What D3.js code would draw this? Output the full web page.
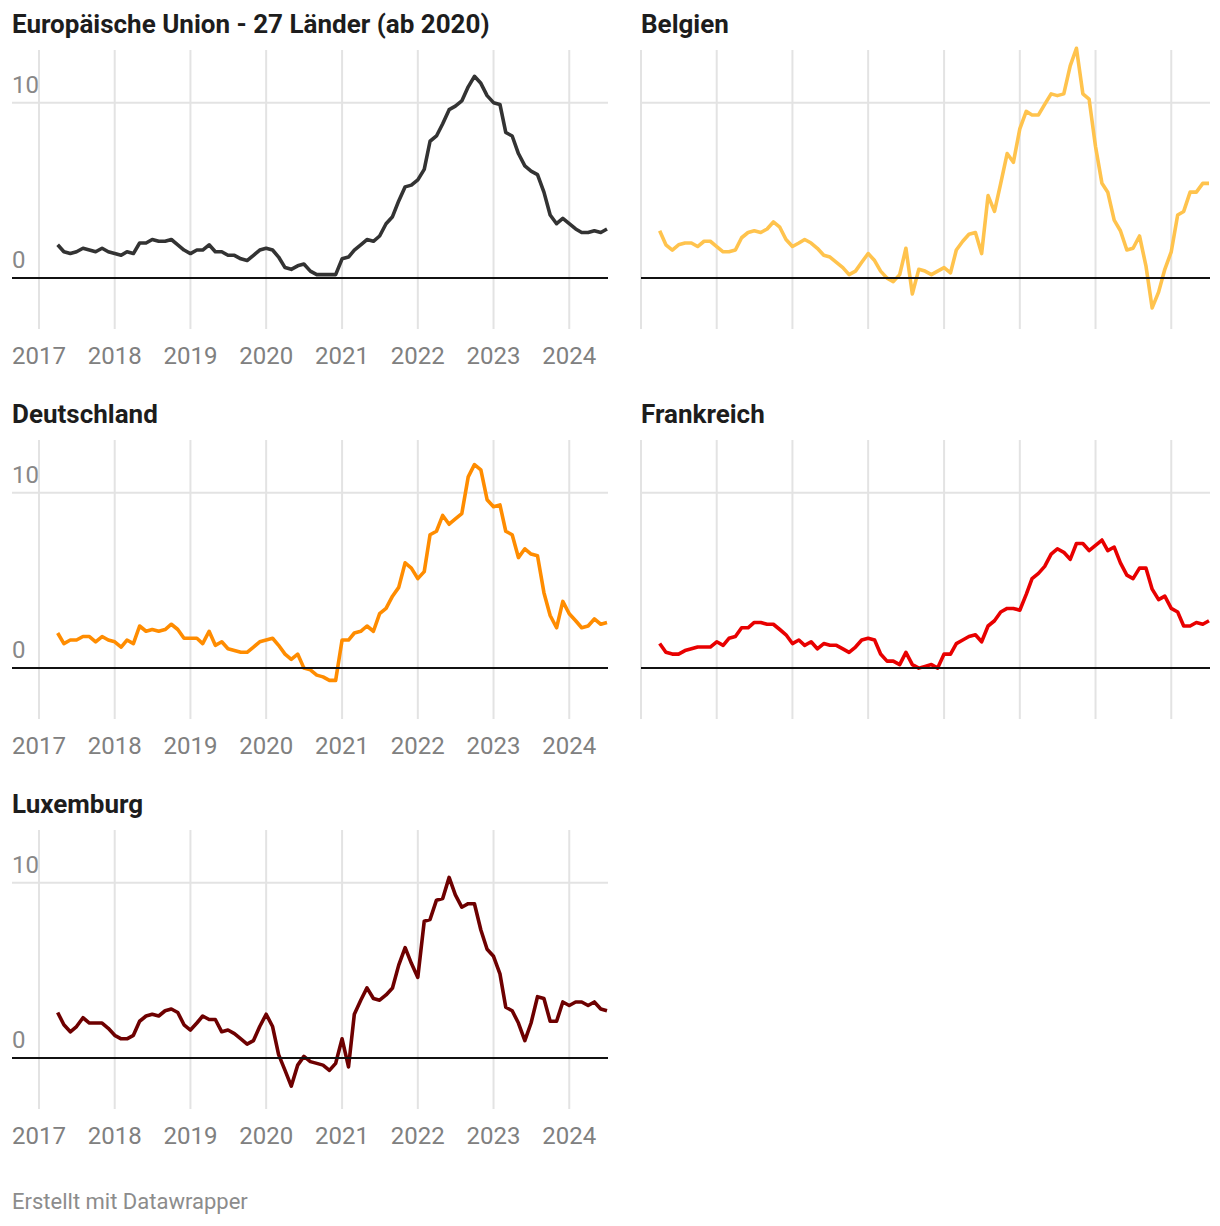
<!DOCTYPE html>
<html>
<head>
<meta charset="utf-8">
<script src="https://cdn.jsdelivr.net/npm/d3@7"></script>
<style>
  body { margin: 0; background: #fff; }
  svg { display: block; }
  text { font-family: Roboto, "Noto Sans", sans-serif; }
</style>
</head>
<body>
<svg id="chart" width="1220" height="1226"></svg>
<script>
// ---- Data (HICP, annual rate of change, %), monthly Apr 2017 – Jul 2024 ----
const firstMonth = "2017-04";
const lastMonth = "2024-07";
const yearTicks = [2017, 2018, 2019, 2020, 2021, 2022, 2023, 2024];
const yTicks = [0, 10];

const panelNames = [
  "Europäische Union - 27 Länder (ab 2020)",
  "Belgien",
  "Deutschland",
  "Frankreich",
  "Luxemburg"
];
const panelColors = ["#333333", "#ffc34d", "#ff8c00", "#e80000", "#6e0000"];

const euValues = [
  1.9, 1.5, 1.4, 1.5, 1.7, 1.6, 1.5, 1.7, 1.5,
  1.4, 1.3, 1.5, 1.4, 2.0, 2.0, 2.2, 2.1, 2.1, 2.2, 1.9, 1.6,
  1.4, 1.6, 1.6, 1.9, 1.5, 1.5, 1.3, 1.3, 1.1, 1.0, 1.3, 1.6,
  1.7, 1.6, 1.2, 0.6, 0.5, 0.7, 0.8, 0.4, 0.2, 0.2, 0.2, 0.2,
  1.1, 1.2, 1.6, 1.9, 2.2, 2.1, 2.4, 3.1, 3.5, 4.4, 5.2, 5.3,
  5.6, 6.2, 7.8, 8.1, 8.8, 9.6, 9.8, 10.1, 10.9, 11.5, 11.1, 10.4,
  10.0, 9.9, 8.3, 8.1, 7.1, 6.4, 6.1, 5.9, 4.9, 3.6, 3.1, 3.4,
  3.1, 2.8, 2.6, 2.6, 2.7, 2.6, 2.8
];
const belgiumValues = [
  2.7, 1.9, 1.6, 1.9, 2.0, 2.0, 1.8, 2.1, 2.1,
  1.8, 1.5, 1.5, 1.6, 2.3, 2.6, 2.7, 2.6, 2.8, 3.2, 2.9, 2.2,
  1.8, 2.0, 2.2, 2.0, 1.7, 1.3, 1.2, 0.9, 0.6, 0.2, 0.4, 0.9,
  1.4, 1.0, 0.4, 0.0, -0.2, 0.2, 1.7, -0.9, 0.5, 0.4, 0.2, 0.4,
  0.6, 0.3, 1.6, 2.1, 2.5, 2.6, 1.4, 4.7, 3.8, 5.4, 7.1, 6.6,
  8.5, 9.5, 9.3, 9.3, 9.9, 10.5, 10.4, 10.5, 12.1, 13.1, 10.5, 10.2,
  7.5, 5.4, 4.9, 3.3, 2.7, 1.6, 1.7, 2.4, 0.7, -1.7, -0.8, 0.5,
  1.5, 3.6, 3.8, 4.9, 4.9, 5.4, 5.4
];
const germanyValues = [
  2.0, 1.4, 1.6, 1.6, 1.8, 1.8, 1.5, 1.8, 1.6,
  1.5, 1.2, 1.6, 1.4, 2.4, 2.1, 2.2, 2.1, 2.2, 2.5, 2.2, 1.7,
  1.7, 1.7, 1.4, 2.1, 1.3, 1.5, 1.1, 1.0, 0.9, 0.9, 1.2, 1.5,
  1.6, 1.7, 1.3, 0.8, 0.5, 0.8, 0.0, -0.1, -0.4, -0.5, -0.7, -0.7,
  1.6, 1.6, 2.0, 2.1, 2.4, 2.1, 3.1, 3.4, 4.1, 4.6, 6.0, 5.7,
  5.1, 5.5, 7.6, 7.8, 8.7, 8.2, 8.5, 8.8, 10.9, 11.6, 11.3, 9.6,
  9.2, 9.3, 7.8, 7.6, 6.3, 6.8, 6.5, 6.4, 4.3, 3.0, 2.3, 3.8,
  3.1, 2.7, 2.3, 2.4, 2.8, 2.5, 2.6
];
const franceValues = [
  1.4, 0.9, 0.8, 0.8, 1.0, 1.1, 1.2, 1.2, 1.2,
  1.5, 1.3, 1.7, 1.8, 2.3, 2.3, 2.6, 2.6, 2.5, 2.5, 2.2, 1.9,
  1.4, 1.6, 1.3, 1.5, 1.1, 1.4, 1.3, 1.3, 1.1, 0.9, 1.2, 1.6,
  1.7, 1.6, 0.8, 0.4, 0.4, 0.2, 0.9, 0.2, 0.0, 0.1, 0.2, 0.0,
  0.8, 0.8, 1.4, 1.6, 1.8, 1.9, 1.5, 2.4, 2.7, 3.2, 3.4, 3.4,
  3.3, 4.2, 5.1, 5.4, 5.8, 6.5, 6.8, 6.6, 6.2, 7.1, 7.1, 6.7,
  7.0, 7.3, 6.7, 6.9, 6.0, 5.3, 5.1, 5.7, 5.7, 4.5, 3.9, 4.1,
  3.4, 3.2, 2.4, 2.4, 2.6, 2.5, 2.7
];
const luxembourgValues = [
  2.6, 1.9, 1.5, 1.8, 2.3, 2.0, 2.0, 2.0, 1.7,
  1.3, 1.1, 1.1, 1.3, 2.1, 2.4, 2.5, 2.4, 2.7, 2.8, 2.6, 1.9,
  1.6, 2.0, 2.4, 2.2, 2.2, 1.5, 1.6, 1.4, 1.1, 0.8, 1.0, 1.8,
  2.5, 1.8, 0.2, -0.7, -1.6, -0.4, 0.1, -0.2, -0.3, -0.4, -0.7, -0.3,
  1.1, -0.5, 2.5, 3.3, 4.0, 3.4, 3.3, 3.6, 4.0, 5.3, 6.3, 5.4,
  4.6, 7.8, 7.9, 9.0, 9.1, 10.3, 9.3, 8.6, 8.8, 8.8, 7.3, 6.2,
  5.8, 4.8, 2.9, 2.7, 2.0, 1.0, 2.0, 3.5, 3.4, 2.1, 2.1, 3.2,
  3.0, 3.2, 3.2, 3.0, 3.2, 2.8, 2.7
];
const panelValues = [euValues, belgiumValues, germanyValues, franceValues, luxembourgValues];
const footerText = "Erstellt mit Datawrapper";

// ---- Layout ----
const svg = d3.select("#chart");
const parseMonth = d3.timeParse("%Y-%m");
const months = d3.timeMonth.range(parseMonth(firstMonth), d3.timeMonth.offset(parseMonth(lastMonth), 1));

const colLeft = [39, 641];     // x of 2017-01
const gridLeft = [12, 641];    // start of horizontal grid lines
const plotWidth = 568;
const rowTop = [0, 390, 780];

panelNames.forEach((name, i) => {
  const col = i % 2 === 0 ? 0 : 1;
  const row = Math.floor(i / 2);
  const oy = rowTop[row];
  const g = svg.append("g");

  const x = d3.scaleTime()
    .domain([new Date(2017, 0, 1), parseMonth(lastMonth)])
    .range([colLeft[col], colLeft[col] + plotWidth]);
  const y = d3.scaleLinear().domain([-2.9, 13.0]).range([oy + 329, oy + 50]);

  // vertical grid lines
  g.selectAll("line.vg").data(yearTicks).join("line")
    .attr("x1", d => x(new Date(d, 0, 1))).attr("x2", d => x(new Date(d, 0, 1)))
    .attr("y1", oy + 50).attr("y2", oy + 329)
    .attr("stroke", "#e3e3e3").attr("stroke-width", 2);

  // horizontal grid (non-zero)
  g.selectAll("line.hg").data(yTicks.filter(d => d !== 0)).join("line")
    .attr("x1", gridLeft[col]).attr("x2", colLeft[col] + plotWidth + 1)
    .attr("y1", d => y(d)).attr("y2", d => y(d))
    .attr("stroke", "#e3e3e3").attr("stroke-width", 2);

  // axis labels (left column only)
  if (col === 0) {
    g.selectAll("text.yl").data(yTicks).join("text")
      .attr("x", gridLeft[col]).attr("y", d => y(d) - 10)
      .attr("font-size", 24).attr("fill", "#888888")
      .text(d => d);
    g.selectAll("text.xl").data(yearTicks).join("text")
      .attr("x", d => x(new Date(d, 0, 1))).attr("y", oy + 364)
      .attr("text-anchor", "middle")
      .attr("font-size", 24).attr("fill", "#808080")
      .text(d => d);
  }

  // line
  const line = d3.line()
    .x((d, j) => x(months[j]))
    .y(d => y(d));
  g.append("path")
    .datum(panelValues[i])
    .attr("d", line)
    .attr("fill", "none")
    .attr("stroke", panelColors[i])
    .attr("stroke-width", 3.6)
    .attr("stroke-linejoin", "round")
    .attr("stroke-linecap", "butt");

  // zero baseline
  g.append("line")
    .attr("x1", gridLeft[col]).attr("x2", colLeft[col] + plotWidth + 1)
    .attr("y1", y(0)).attr("y2", y(0))
    .attr("stroke", "#111").attr("stroke-width", 2);

  // title
  g.append("text")
    .attr("x", gridLeft[col]).attr("y", oy + 33)
    .attr("font-size", 26).attr("font-weight", 700).attr("fill", "#1d1d1d")
    .text(name);
});

svg.append("text")
  .attr("x", 12).attr("y", 1209)
  .attr("font-size", 22).attr("fill", "#8c8c8c")
  .text(footerText);
</script>
</body>
</html>
